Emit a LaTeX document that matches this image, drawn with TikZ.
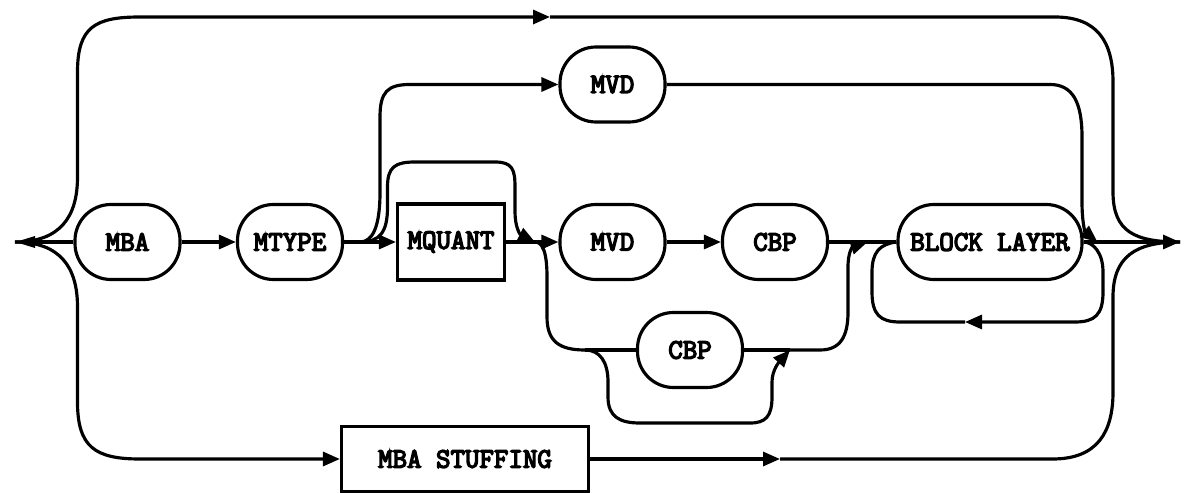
\documentclass[tikz,border=0pt]{standalone}
\usepackage{fontspec}
\newfontfamily\labelfont{Latin Modern Mono}[FakeBold=5]
\usetikzlibrary{arrows.meta}

\tikzset{
  line/.style={line width=1.8pt},
  arr/.style={line, -{Triangle[length=0.34cm,width=0.28cm]}},
  term/.style={draw, line width=1.8pt, rounded corners=0.72cm, minimum height=1.5cm,
    minimum width=2.1cm, inner sep=0pt, font=\labelfont\fontsize{16}{18}\selectfont},
  nonterm/.style={draw, line width=1.8pt, minimum height=1.52cm, minimum width=2.14cm,
    inner sep=0pt, font=\labelfont\fontsize{16}{18}\selectfont},
}

\begin{document}
\begin{tikzpicture}
  \useasboundingbox (0,0) rectangle (23.7,9.84);

  \node[term] (mba) at (2.55,5.0) {MBA};
  \node[term] (mtype) at (5.8,5.0) {MTYPE};
  \node[nonterm] (mquant) at (9.02,5.0) {MQUANT};
  \node[term] (mvdtop) at (12.25,8.15) {MVD};
  \node[term] (mvd) at (12.25,5.0) {MVD};
  \node[term] (cbp) at (15.5,5.0) {CBP};
  \node[term] (cbpalt) at (13.8,2.84) {CBP};
  \node[term, minimum width=3.68cm] (block) at (19.8,5.0) {BLOCK LAYER};
  \node[nonterm, minimum width=4.94cm, minimum height=1.3cm] (stuffing) at (9.3,0.66) {MBA STUFFING};

  \coordinate (start) at (0.3,5.0);
  \coordinate (end) at (23.6,5.0);
  \coordinate (j1) at (7.2,5.0);
  \coordinate (j2) at (10.7,5.0);
  \coordinate (j3) at (11.7,2.84);
  \coordinate (j4) at (15.8,2.84);
  \coordinate (j5) at (17.35,5.0);
  \coordinate (j6) at (21.95,5.0);
  \coordinate (topmid) at (11.0,9.5);
  \coordinate (botmid) at (15.6,0.66);
  \coordinate (loopmid) at (19.3,3.4);

  % main line
  \draw[line, {Triangle[length=0.4cm,width=0.22cm]}-] (start) -- (mba);
  \draw[arr] (mba) -- (mtype);
  \draw[line] (mtype) -- (j1);
  \draw[arr] (j1) -- (mquant);
  \draw[line] (mquant) -- (j2);
  \draw[arr] (j2) -- (mvd);
  \draw[arr] (mvd) -- (cbp);
  \draw[line] (cbp) -- (block);
  \draw[line] (block) -- (j6);
  \draw[arr] (j6) -- (end);

  % over the top
  \draw[arr] (start) .. controls (1.2,5.0) and (1.55,5.5) .. (1.55,6.3) -- (1.55,8.4)
    .. controls (1.55,9.3) and (1.9,9.5) .. (2.8,9.5) -- (topmid);
  \draw[line] (topmid) -- (21.1,9.5) .. controls (21.95,9.5) and (22.26,9.0) .. (22.26,8.2)
    -- (22.26,6.0) .. controls (22.26,5.2) and (22.7,5.0) .. (end);

  % MBA STUFFING
  \draw[arr] (start) .. controls (1.2,5.0) and (1.55,4.5) .. (1.55,3.7) -- (1.55,1.8)
    .. controls (1.55,0.9) and (1.9,0.66) .. (2.8,0.66) -- (stuffing);
  \draw[arr] (stuffing) -- (botmid);
  \draw[line] (botmid) -- (21.05,0.66) .. controls (21.95,0.66) and (22.26,1.2) .. (22.26,2.0)
    -- (22.26,3.9) .. controls (22.26,4.7) and (22.7,5.0) .. (end);

  % upper MVD
  \draw[arr] (j1) .. controls (7.45,5.0) and (7.6,5.3) .. (7.6,6.0) -- (7.6,7.5)
    .. controls (7.6,8.0) and (7.75,8.15) .. (8.2,8.15) -- (mvdtop);
  \draw[arr] (mvdtop) -- (21.0,8.15) .. controls (21.45,8.15) and (21.64,7.8) .. (21.64,7.1)
    -- (21.64,5.8) .. controls (21.64,5.4) and (21.7,5.2) .. (j6);

  % around MQUANT
  \draw[arr] (j1) .. controls (7.6,5.0) and (7.75,5.2) .. (7.75,5.7) -- (7.75,6.1)
    .. controls (7.75,6.5) and (7.9,6.6) .. (8.3,6.6) -- (9.9,6.6)
    .. controls (10.25,6.6) and (10.3,6.45) .. (10.3,6.1) -- (10.3,5.6)
    .. controls (10.3,5.3) and (10.4,5.15) .. (j2);

  % lower CBP
  \draw[line] (j2) .. controls (10.85,5.0) and (10.94,4.8) .. (10.94,4.3) -- (10.94,3.5)
    .. controls (10.94,3.0) and (11.2,2.84) .. (j3);
  \draw[line] (j3) -- (cbpalt);
  \draw[line] (cbpalt) -- (j4);
  \draw[arr] (j4) -- (16.4,2.84) .. controls (16.8,2.84) and (16.96,3.1) .. (16.96,3.6)
    -- (16.96,4.5) .. controls (16.96,4.8) and (17.05,4.9) .. (j5);
  \draw[arr] (j3) .. controls (12.0,2.84) and (12.16,2.6) .. (12.16,2.2) -- (12.16,1.9)
    .. controls (12.16,1.5) and (12.4,1.38) .. (12.8,1.38) -- (15.0,1.38)
    .. controls (15.3,1.38) and (15.44,1.5) .. (15.44,1.9) -- (15.44,2.2)
    .. controls (15.44,2.45) and (15.6,2.62) .. (j4);

  % repeat BLOCK LAYER
  \draw[arr] (block.east) .. controls (21.85,5.0) and (22.06,4.8) .. (22.06,4.4) -- (22.06,4.0)
    .. controls (22.06,3.55) and (21.9,3.4) .. (21.5,3.4) -- (loopmid);
  \draw[line] (loopmid) -- (18.0,3.4) .. controls (17.6,3.4) and (17.44,3.55) .. (17.44,4.0)
    -- (17.44,4.4) .. controls (17.44,4.8) and (17.6,4.96) .. (block.west);
\end{tikzpicture}
\end{document}
